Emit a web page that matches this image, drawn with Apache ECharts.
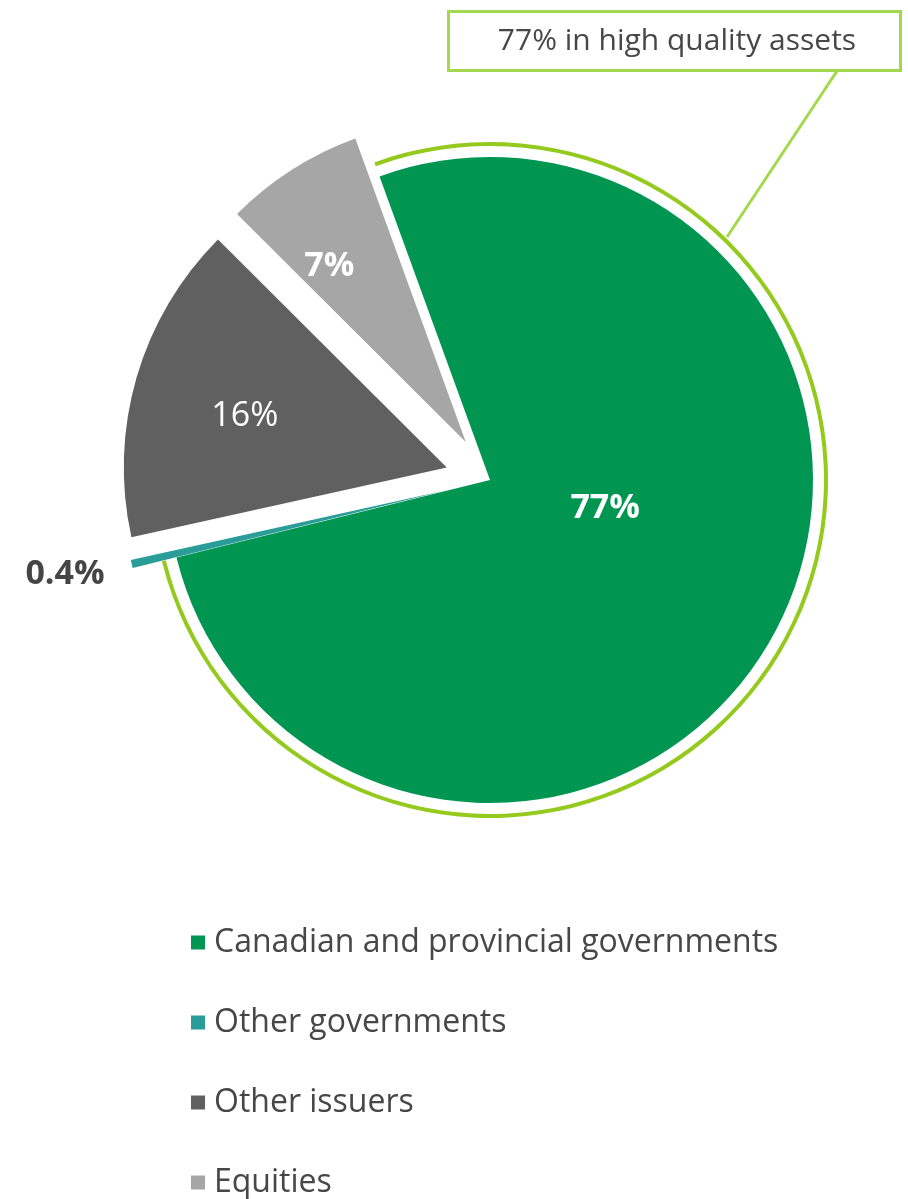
<!DOCTYPE html>
<html>
<head>
<meta charset="utf-8">
<script src="https://cdn.jsdelivr.net/npm/echarts@6/dist/echarts.min.js"></script>
<style>
html,body{margin:0;padding:0;background:#fff;}
#c{width:908px;height:1199px;}
</style>
</head>
<body>
<div id="c"></div>
<script>
var categories = ['Canadian and provincial governments', 'Other governments', 'Other issuers', 'Equities'];
var values = [77, 0.4, 16, 7];
var labels = ['77%', '0.4%', '16%', '7%'];
var colors = ['#009651', '#2A9D98', '#606060', '#A6A6A6'];
var annotation = '77% in high quality assets';

var FONT = '"Open Sans", Lato, sans-serif';
var labelStyles = [
  {color: '#fff', fontWeight: 'bold', dx: -30, dy: -49},
  {color: '#454545', fontWeight: 'bold', dx: -221, dy: 47},
  {color: '#fff', fontWeight: 'normal', dx: -44, dy: -5},
  {color: '#fff', fontWeight: 'bold', dx: -48, dy: -37}
];

var mainData = categories.map(function (name, i) {
  return {
    name: name,
    value: values[i],
    selected: i !== 0,
    itemStyle: {color: colors[i]},
    label: {color: labelStyles[i].color, fontWeight: labelStyles[i].fontWeight}
  };
});
var ringData = values.map(function (v, i) {
  return {name: 'ring' + i, value: v, itemStyle: {color: i === 0 ? '#94C91E' : 'rgba(0,0,0,0)'}};
});

var chart = echarts.init(document.getElementById('c'), null, {renderer: 'canvas'});
chart.setOption({
  animation: false,
  backgroundColor: '#fff',
  legend: {
    data: categories,
    orient: 'vertical',
    left: 186,
    top: 920,
    height: 290,
    icon: 'rect',
    itemWidth: 14,
    itemHeight: 14,
    itemGap: 45,
    textStyle: {fontFamily: FONT, fontSize: 32, color: '#474747', lineHeight: 35, padding: [0, 0, 0, 4]}
  },
  series: [
    {
      type: 'pie',
      center: [490, 480],
      radius: [0, 323],
      startAngle: 110,
      clockwise: true,
      selectedMode: 'multiple',
      selectedOffset: 45,
      silent: true,
      emphasis: {disabled: true},
      itemStyle: {borderWidth: 0},
      label: {
        show: true,
        position: 'inside',
        fontFamily: FONT,
        fontSize: 34,
        formatter: function (p) { return labels[p.dataIndex]; }
      },
      labelLine: {show: false},
      labelLayout: function (p) {
        return {dx: labelStyles[p.dataIndex].dx, dy: labelStyles[p.dataIndex].dy};
      },
      data: mainData
    },
    {
      type: 'pie',
      center: [490, 480],
      radius: [334, 338],
      startAngle: 110,
      clockwise: true,
      silent: true,
      emphasis: {disabled: true},
      label: {show: false},
      labelLine: {show: false},
      data: ringData
    }
  ],
  graphic: [
    {
      type: 'rect',
      shape: {x: 448.5, y: 11.5, width: 452, height: 59},
      style: {fill: '#fff', stroke: '#A3D84F', lineWidth: 3}
    },
    {
      type: 'text',
      x: 677, y: 41,
      style: {text: annotation, fontFamily: FONT, fontSize: 30, fill: '#474747', align: 'center', verticalAlign: 'middle'}
    },
    {
      type: 'line',
      shape: {x1: 837, y1: 71, x2: 727, y2: 237},
      style: {stroke: '#A3D84F', lineWidth: 3}
    }
  ]
});
</script>
</body>
</html>
